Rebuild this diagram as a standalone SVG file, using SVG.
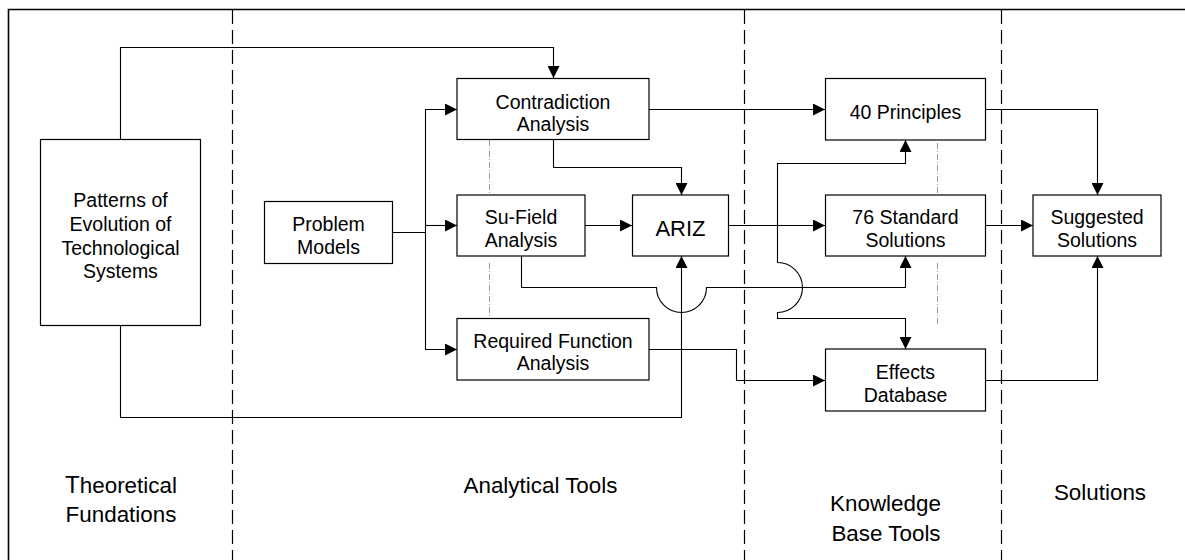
<svg xmlns="http://www.w3.org/2000/svg" width="1185" height="560" viewBox="0 0 1185 560">
<defs>
<style>
.box{fill:#fff;stroke:#000;stroke-width:1.2}
.t{font-family:"Liberation Sans",Arial,sans-serif;font-size:19.5px;fill:#000;text-anchor:middle}
.lab{font-family:"Liberation Sans",Arial,sans-serif;font-size:22.4px;fill:#000;text-anchor:middle}
.c{fill:none;stroke:#000;stroke-width:1.1}
.dash{fill:none;stroke:#000;stroke-width:1.2;stroke-dasharray:14 6}
.dot{fill:none;stroke:#999;stroke-width:1;stroke-dasharray:6 2 1 2}
</style>
<marker id="ar" markerUnits="userSpaceOnUse" markerWidth="12" markerHeight="12" refX="12" refY="6" orient="auto">
<path d="M0,0 L12,6 L0,12 Z" fill="#000"/>
</marker>
</defs>
<rect width="1185" height="560" fill="#fff"/>
<path d="M8.5,562 V9.5 H1190" fill="none" stroke="#000" stroke-width="1.6"/>
<g id="dividers">
<line class="dash" x1="232.5" y1="10" x2="232.5" y2="560"/>
<line class="dash" x1="744.5" y1="10" x2="744.5" y2="560"/>
<line class="dash" x1="1001.5" y1="10" x2="1001.5" y2="560"/>
<line class="dot" x1="489.5" y1="140" x2="489.5" y2="197"/>
<line class="dot" x1="489.5" y1="263" x2="489.5" y2="324"/>
<line class="dot" x1="937.5" y1="143" x2="937.5" y2="200"/>
<line class="dot" x1="937.5" y1="263" x2="937.5" y2="324"/>
</g>
<g id="connectors">
<path class="c" d="M120.5,139 V47.5 H553.5 V78" marker-end="url(#ar)"/>
<path class="c" d="M120.5,326 V417.5 H681.5 V256" marker-end="url(#ar)"/>
<path class="c" d="M393,232.5 H425.5"/>
<path class="c" d="M425.5,225.5 V109.5 H457" marker-end="url(#ar)"/>
<path class="c" d="M425.5,225.5 H457" marker-end="url(#ar)"/>
<path class="c" d="M425.5,225.5 V349.5 H457" marker-end="url(#ar)"/>
<path class="c" d="M553.5,140 V167.5 H681.5 V195" marker-end="url(#ar)"/>
<path class="c" d="M585,225.5 H632" marker-end="url(#ar)"/>
<path class="c" d="M649,109.5 H825" marker-end="url(#ar)"/>
<path class="c" d="M729,225.5 H825" marker-end="url(#ar)"/>
<path class="c" d="M521.5,256 V287.5 H656.5 A25,25 0 0 0 706.5,287.5 H905.5 V256" marker-end="url(#ar)"/>
<path class="c" d="M777.5,240 V163.5 H905.5 V140" marker-end="url(#ar)"/>
<path class="c" d="M777.5,240 V262.5 A25,25 0 0 1 777.5,312.5 V318.5 H905.5 V349" marker-end="url(#ar)"/>
<path class="c" d="M649,349.5 H736.5 V380.5 H825" marker-end="url(#ar)"/>
<path class="c" d="M985,109.5 H1097.5 V195" marker-end="url(#ar)"/>
<path class="c" d="M985,225.5 H1033" marker-end="url(#ar)"/>
<path class="c" d="M985,380.5 H1097.5 V256" marker-end="url(#ar)"/>
</g>
<g id="patterns">
<rect class="box" x="40.5" y="139.5" width="160" height="186"/>
<text class="t" x="120.5" y="207">Patterns of</text>
<text class="t" x="120.5" y="231">Evolution of</text>
<text class="t" x="120.5" y="254.5">Technological</text>
<text class="t" x="120.5" y="277.5">Systems</text>
</g>
<g id="problem">
<rect class="box" x="264.5" y="201.5" width="128" height="62"/>
<text class="t" x="328.5" y="231">Problem</text>
<text class="t" x="328.5" y="254">Models</text>
</g>
<g id="contradiction">
<rect class="box" x="457" y="78.5" width="192" height="61"/>
<text class="t" x="553" y="108.5">Contradiction</text>
<text class="t" x="553" y="131">Analysis</text>
</g>
<g id="sufield">
<rect class="box" x="457" y="195" width="128" height="61"/>
<text class="t" x="521" y="224">Su-Field</text>
<text class="t" x="521" y="246.5">Analysis</text>
</g>
<g id="ariz">
<rect class="box" x="632.5" y="195" width="96" height="61"/>
<text class="t" x="680.5" y="236" style="font-size:22px">ARIZ</text>
</g>
<g id="required">
<rect class="box" x="457" y="318.5" width="192" height="61.5"/>
<text class="t" x="553" y="347.5">Required Function</text>
<text class="t" x="553" y="370">Analysis</text>
</g>
<g id="principles">
<rect class="box" x="825.5" y="78.5" width="160" height="61.5"/>
<text class="t" x="905.5" y="119">40 Principles</text>
</g>
<g id="standard">
<rect class="box" x="825.5" y="195" width="160" height="61"/>
<text class="t" x="905.5" y="224">76 Standard</text>
<text class="t" x="905.5" y="246.5">Solutions</text>
</g>
<g id="effects">
<rect class="box" x="825.5" y="349" width="160" height="62"/>
<text class="t" x="905.5" y="378.5">Effects</text>
<text class="t" x="905.5" y="401.5">Database</text>
</g>
<g id="suggested">
<rect class="box" x="1033" y="195" width="128" height="61"/>
<text class="t" x="1097" y="224">Suggested</text>
<text class="t" x="1097" y="246.5">Solutions</text>
</g>
<g id="labels">
<text class="lab" x="121" y="492.5"><tspan style="font-size:24px">T</tspan>heoretical</text>
<text class="lab" x="121" y="521.5">Fundations</text>
<text class="lab" x="540.5" y="492.5">Analytical Tools</text>
<text class="lab" x="885.5" y="510.5">Knowledge</text>
<text class="lab" x="886" y="540.5">Base Tools</text>
<text class="lab" x="1100" y="500">Solutions</text>
</g>
</svg>
